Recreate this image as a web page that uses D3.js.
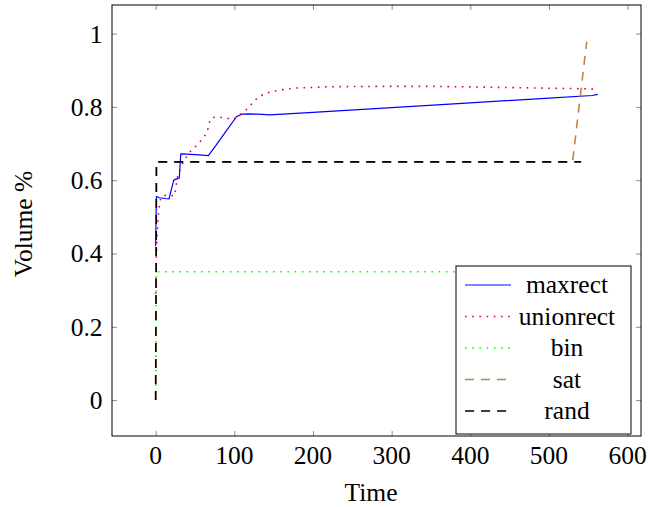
<!DOCTYPE html>
<meta charset="utf-8">
<title>Volume over time</title>
<script src="https://d3js.org/d3.v7.min.js"></script>
<style>
  body { margin: 0; background: #fff; }
</style>
<div id="chart"></div>
<script>
  // data
  const maxrectT = [0, 0.5, 1, 5, 12, 17, 20, 23, 26, 30, 31, 32, 40, 55, 67, 75, 90, 103, 110, 118, 130, 145, 200, 300, 400, 500, 555, 562];
  const maxrectV = [0.42, 0.50, 0.555, 0.552, 0.550, 0.549, 0.575, 0.600, 0.603, 0.606, 0.640, 0.672, 0.671, 0.669, 0.667, 0.690, 0.735, 0.774, 0.780, 0.781, 0.780, 0.778, 0.785, 0.798, 0.811, 0.824, 0.831, 0.834];

  const unionT = [0, 0.5, 1, 2, 4, 6.6, 15, 24, 26, 28, 33, 37.5, 43, 49, 55.6, 61.6, 66, 68, 71.4, 80, 89.6, 98, 108, 118, 124, 130.6, 139, 147.6, 156, 175, 220, 289, 350, 416, 500, 556];
  const unionV = [0.29, 0.34, 0.40, 0.46, 0.52, 0.554, 0.560, 0.557, 0.585, 0.612, 0.640, 0.658, 0.676, 0.688, 0.703, 0.718, 0.735, 0.756, 0.771, 0.772, 0.770, 0.765, 0.780, 0.797, 0.813, 0.827, 0.836, 0.842, 0.845, 0.851, 0.855, 0.856, 0.856, 0.854, 0.851, 0.849];

  const binT = [0, 1, 560];
  const binV = [0, 0.35, 0.35];

  const satT = [0, 1, 530, 548];
  const satV = [0, 0.65, 0.65, 0.978];

  const randT = [0, 1, 541];
  const randV = [0, 0.65, 0.65];

  const xTicks = [0, 100, 200, 300, 400, 500, 600];
  const yTicks = [0, 0.2, 0.4, 0.6, 0.8, 1];

  const series = [
    { name: "maxrect", t: maxrectT, v: maxrectV, color: "#0000ff", dash: null, width: 1.2 },
    { name: "unionrect", t: unionT, v: unionV, color: "#d2004b", dash: "1.6,5.6", width: 1.6 },
    { name: "bin", t: binT, v: binV, color: "#00ff00", dash: "1.6,5.6", width: 1.6 },
    { name: "sat", t: satT, v: satV, color: "#c0844a", dash: "9,7", width: 1.6 },
    { name: "rand", t: randT, v: randV, color: "#000000", dash: "9,7", width: 1.6 }
  ];

  const margin = { top: 5, left: 112 },
    width = 529,
    height = 431,
    fs = 25.5;

  const svg = d3.select("#chart")
    .append("svg")
    .attr("width", 648)
    .attr("height", 507)
    .attr("font-family", "'Liberation Serif', 'DejaVu Serif', serif");

  const g = svg.append("g")
    .attr("transform", `translate(${margin.left},${margin.top})`);

  const x = d3.scaleLinear().domain([-55.5, 617]).range([0, width]);
  const y = d3.scaleLinear().domain([-0.098, 1.078]).range([height, 0]);

  // inner ticks on all four sides
  const tickLen = 5;
  const tickColor = "#8c8c8c";
  g.append("g").attr("transform", `translate(0,${height})`)
    .call(d3.axisBottom(x).tickValues(xTicks).tickSizeInner(-tickLen).tickSizeOuter(0).tickFormat(""))
    .call(a => a.select(".domain").remove())
    .selectAll("line").attr("stroke", tickColor);
  g.append("g")
    .call(d3.axisTop(x).tickValues(xTicks).tickSizeInner(-tickLen).tickSizeOuter(0).tickFormat(""))
    .call(a => a.select(".domain").remove())
    .selectAll("line").attr("stroke", tickColor);
  g.append("g")
    .call(d3.axisLeft(y).tickValues(yTicks).tickSizeInner(-tickLen).tickSizeOuter(0).tickFormat(""))
    .call(a => a.select(".domain").remove())
    .selectAll("line").attr("stroke", tickColor);
  g.append("g").attr("transform", `translate(${width},0)`)
    .call(d3.axisRight(y).tickValues(yTicks).tickSizeInner(-tickLen).tickSizeOuter(0).tickFormat(""))
    .call(a => a.select(".domain").remove())
    .selectAll("line").attr("stroke", tickColor);

  // tick labels
  g.selectAll(".xlab").data(xTicks).join("text")
    .attr("x", d => x(d)).attr("y", height + 27.5)
    .attr("text-anchor", "middle")
    .attr("font-size", fs)
    .text(d => d);
  g.selectAll(".ylab").data(yTicks).join("text")
    .attr("x", -9.5).attr("y", d => y(d) + 9)
    .attr("text-anchor", "end")
    .attr("font-size", fs)
    .text(d => d);

  const line = d3.line()
    .x(d => x(d[0]))
    .y(d => y(d[1]));

  const plot = g.append("g");
  series.forEach(s => {
    plot.append("path")
      .datum(s.t.map((t, i) => [t, s.v[i]]))
      .attr("fill", "none")
      .attr("stroke", s.color)
      .attr("stroke-width", s.width)
      .attr("stroke-dasharray", s.dash)
      .attr("d", line);
  });

  // frame
  g.append("rect")
    .attr("width", width).attr("height", height)
    .attr("fill", "none").attr("stroke", "#000").attr("stroke-width", 1);

  // axis titles
  g.append("text")
    .attr("x", 259).attr("y", height + 64.5)
    .attr("text-anchor", "middle")
    .attr("font-size", fs)
    .text("Time");
  g.append("text")
    .attr("transform", "rotate(-90)")
    .attr("x", -219).attr("y", -80.5)
    .attr("text-anchor", "middle")
    .attr("font-size", fs)
    .text("Volume %");

  // legend
  const legend = g.append("g").attr("transform", `translate(${456 - margin.left},${266 - margin.top})`);
  legend.append("rect")
    .attr("width", 175).attr("height", 168)
    .attr("fill", "#fff").attr("stroke", "#000").attr("stroke-width", 1);
  series.forEach((s, i) => {
    const cy = 19 + i * 31.5;
    legend.append("line")
      .attr("x1", 9).attr("x2", 55).attr("y1", cy).attr("y2", cy)
      .attr("stroke", s.color)
      .attr("stroke-width", s.width)
      .attr("stroke-dasharray", s.dash);
    legend.append("text")
      .attr("x", 111).attr("y", cy + 8)
      .attr("text-anchor", "middle")
      .attr("font-size", fs)
      .text(s.name);
  });
</script>
